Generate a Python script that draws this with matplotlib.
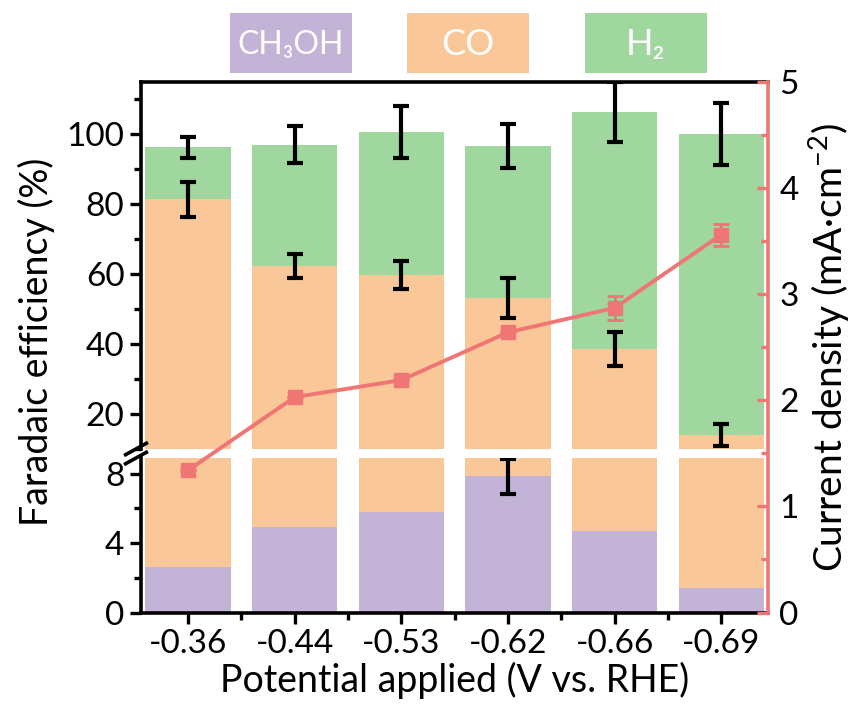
import numpy as np
import matplotlib
matplotlib.use('Agg')
import matplotlib.pyplot as plt
from matplotlib.patches import Rectangle
from matplotlib.ticker import MultipleLocator

plt.rcParams['font.family'] = ['Lato', 'DejaVu Sans']
plt.rcParams['mathtext.fontset'] = 'custom'
plt.rcParams['mathtext.rm'] = 'Lato'
plt.rcParams['mathtext.it'] = 'Lato'
plt.rcParams['mathtext.default'] = 'regular'

# data
potentials = ['-0.36', '-0.44', '-0.53', '-0.62', '-0.66', '-0.69']
fe_ch3oh = [2.65, 4.94, 5.77, 7.85, 4.7, 1.4]
fe_co = [78.85, 57.36, 53.93, 45.35, 33.9, 12.6]
fe_h2 = [14.9, 34.8, 41.0, 43.5, 67.8, 86.2]
err_ch3oh = [0, 0, 0, 1.0, 0, 0]
err_co = [5.0, 3.5, 4.0, 5.6, 4.8, 3.1]
err_h2 = [3.0, 5.2, 7.3, 6.4, 8.6, 8.9]
current = [1.34, 2.03, 2.19, 2.64, 2.87, 3.56]
err_current = [0, 0, 0, 0, 0.115, 0.105]

c_ch3oh = '#C3B3D7'
c_co = '#FAC898'
c_h2 = '#9FD79F'
c_red = '#F07575'

x = np.arange(len(potentials))
ch3oh = np.array(fe_ch3oh)
co_top = ch3oh + np.array(fe_co)
tot = co_top + np.array(fe_h2)

fig = plt.figure(figsize=(8.66, 7.12), dpi=100)
left, width = 0.163, 0.724
ax_up = fig.add_axes([left, 0.3694, width, 0.5154])
ax_lo = fig.add_axes([left, 0.1397, width, 0.2170])
ax_cd = fig.add_axes([left, 0.1397, width, 0.7453])

bw = 0.8
for ax in (ax_up, ax_lo):
    ax.bar(x, fe_ch3oh, bw, color=c_ch3oh, zorder=1)
    ax.bar(x, fe_co, bw, bottom=ch3oh, color=c_co, zorder=1)
    ax.bar(x, fe_h2, bw, bottom=co_top, color=c_h2, zorder=1)
    ax.set_xlim(-0.44, len(x) - 0.56)

ek = dict(fmt='none', ecolor='black', elinewidth=3, capsize=5.5, capthick=3, zorder=3)
ax_up.errorbar(x, co_top, yerr=err_co, **ek)
ax_up.errorbar(x, tot, yerr=err_h2, **ek)
m = np.array(err_ch3oh) > 0
ax_lo.errorbar(x[m], ch3oh[m], yerr=np.array(err_ch3oh)[m], **ek)

ax_up.set_ylim(10, 115)
ax_lo.set_ylim(0, 8.9)

# upper axis styling
ax_up.spines['bottom'].set_visible(False)
ax_up.spines['right'].set_visible(False)
ax_up.spines['top'].set_linewidth(2.6)
ax_up.spines['left'].set_linewidth(2.6)
ax_up.set_xticks([])
ax_up.yaxis.set_minor_locator(MultipleLocator(10))
ax_up.set_yticks([20, 40, 60, 80, 100])

# lower axis styling
ax_lo.spines['top'].set_visible(False)
ax_lo.spines['right'].set_visible(False)
ax_lo.spines['bottom'].set_linewidth(2.6)
ax_lo.spines['left'].set_linewidth(2.6)
ax_lo.set_yticks([0, 4, 8])
ax_lo.yaxis.set_minor_locator(MultipleLocator(2))
ax_lo.set_xticks(x)
ax_lo.set_xticklabels(potentials)
ax_lo.set_xticks(x[:-1] + 0.5, minor=True)

for ax in (ax_up, ax_lo):
    ax.tick_params(axis='both', which='major', direction='out', length=8, width=2.4,
                   labelsize=24, pad=4)
    ax.tick_params(axis='both', which='minor', direction='out', length=5, width=2.4)
    ax.set_facecolor('none')

# current density axis
ax_cd.set_facecolor('none')
ax_cd.plot(x, current, color=c_red, lw=2.8, marker='s', ms=10, zorder=5)
ax_cd.errorbar(x, current, yerr=err_current, fmt='none', ecolor=c_red,
               elinewidth=2, capsize=6, capthick=2, zorder=4)
ax_cd.set_xlim(-0.44, len(x) - 0.56)
ax_cd.set_ylim(0, 5)
for s in ('left', 'top', 'bottom'):
    ax_cd.spines[s].set_visible(False)
ax_cd.spines['right'].set_color(c_red)
ax_cd.spines['right'].set_linewidth(2.6)
ax_cd.set_xticks([])
ax_cd.yaxis.tick_right()
ax_cd.yaxis.set_label_position('right')
ax_cd.yaxis.set_major_locator(MultipleLocator(1))
ax_cd.yaxis.set_minor_locator(MultipleLocator(0.5))
ax_cd.tick_params(axis='y', which='major', direction='in', length=8, width=2.4,
                  color=c_red, labelsize=24, pad=8)
ax_cd.tick_params(axis='y', which='minor', direction='in', length=5, width=2.4, color=c_red)
ax_cd.set_ylabel('Current density (mA·cm$^{-2}$)', fontsize=28, labelpad=6)

# axis labels
ax_lo.set_xlabel('Potential applied (V vs. RHE)', fontsize=27, labelpad=2)
fig.text(0.042, 0.52, 'Faradaic efficiency (%)', fontsize=27, rotation=90,
         ha='center', va='center')

# break marks
for yb in (0.3694, 0.3567):
    fig.add_artist(plt.Line2D([left - 0.018, left + 0.006], [yb - 0.008, yb + 0.008],
                              color='black', lw=2.6, transform=fig.transFigure))

# legend boxes on top
boxes = [(0.2656, c_ch3oh, 'CH₃OH', 23), (0.470, c_co, 'CO', 26), (0.6755, c_h2, 'H₂', 26)]
for bx, col, lab, fs in boxes:
    fig.add_artist(Rectangle((bx, 0.8975), 0.141, 0.0843, transform=fig.transFigure,
                             facecolor=col, edgecolor='none'))
    fig.text(bx + 0.0705, 0.8975 + 0.040, lab, color='white', fontsize=fs,
             ha='center', va='center')

fig.savefig('out.png', dpi=100)
